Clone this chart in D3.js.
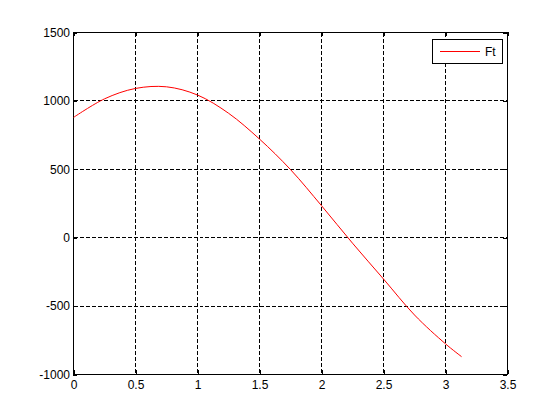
<!DOCTYPE html>
<html>
<head>
<meta charset="utf-8">
<script src="https://cdn.jsdelivr.net/npm/d3@7"></script>
<style>
  html, body { margin: 0; padding: 0; background: #fff; }
  svg { display: block; }
  text { font-family: "Liberation Sans", Arial, Helvetica, sans-serif; font-size: 12px; fill: #000; }
</style>
</head>
<body>
<svg id="chart" width="560" height="420"></svg>
<script>
// Data
const xValues = [0, 0.25, 0.5, 0.75, 1.0, 1.25, 1.5, 1.75, 2.0, 2.25, 2.5, 2.75, 3.0, 3.13];
const ftValues = [879, 1015, 1091, 1103, 1043, 910, 721, 498, 234, -40, -302, -565, -776, -870];
const xTicks = [0, 0.5, 1, 1.5, 2, 2.5, 3, 3.5];
const yTicks = [-1000, -500, 0, 500, 1000, 1500];
const seriesName = "Ft";

const svg = d3.select("#chart");
const L = 73, R = 507, T = 32, B = 374;

const x = d3.scaleLinear().domain([0, 3.5]).range([L + 0.5, R + 0.5]);
const y = d3.scaleLinear().domain([-1000, 1500]).range([B + 0.5, T + 0.5]);

svg.append("rect").attr("x", 0).attr("y", 0).attr("width", 560).attr("height", 420).attr("fill", "#fff");

// grid
const grid = svg.append("g").attr("shape-rendering", "crispEdges");
grid.selectAll("line.gx").data(xTicks.slice(1, -1)).enter().append("line")
  .attr("x1", d => x(d)).attr("x2", d => x(d)).attr("y1", T + 0.5).attr("y2", B + 0.5)
  .attr("stroke", "#000").attr("stroke-width", 1).attr("stroke-dasharray", "4,2");
grid.selectAll("line.gy").data(yTicks.slice(1, -1)).enter().append("line")
  .attr("y1", d => y(d)).attr("y2", d => y(d)).attr("x1", L + 0.5).attr("x2", R + 0.5)
  .attr("stroke", "#000").attr("stroke-width", 1).attr("stroke-dasharray", "4,2");

// axes (ticks inward, MATLAB style)
const tickLen = 4;
const fmt = d => String(d);
const xAxisB = d3.axisBottom(x).tickValues(xTicks).tickFormat(fmt).tickSizeInner(-tickLen).tickSizeOuter(0).tickPadding(6);
const xAxisT = d3.axisTop(x).tickValues(xTicks).tickFormat("").tickSizeInner(-tickLen).tickSizeOuter(0);
const yAxisL = d3.axisLeft(y).tickValues(yTicks).tickFormat(fmt).tickSizeInner(-tickLen).tickSizeOuter(0).tickPadding(3);
const yAxisR = d3.axisRight(y).tickValues(yTicks).tickFormat("").tickSizeInner(-tickLen).tickSizeOuter(0);

function styleAxis(g) {
  g.attr("shape-rendering", "crispEdges");
  g.select(".domain").remove();
  g.selectAll(".tick line").attr("stroke", "#000");
  g.selectAll(".tick text").attr("font-family", null).attr("font-size", null).attr("fill", "#000");
}
svg.append("g").attr("transform", `translate(0,${B})`).call(xAxisB).call(styleAxis)
  .attr("font-family", null).attr("font-size", null);
svg.append("g").attr("transform", `translate(0,${T})`).call(xAxisT).call(styleAxis);
svg.append("g").attr("transform", `translate(${L},0)`).call(yAxisL).call(styleAxis)
  .attr("font-family", null).attr("font-size", null);
svg.append("g").attr("transform", `translate(${R},0)`).call(yAxisR).call(styleAxis);

// axes box
svg.append("rect").attr("x", L + 0.5).attr("y", T + 0.5).attr("width", R - L).attr("height", B - T)
  .attr("fill", "none").attr("stroke", "#000").attr("stroke-width", 1).attr("shape-rendering", "crispEdges");

// curve
const data = xValues.map((v, i) => [v, ftValues[i]]);
const line = d3.line().x(d => x(d[0])).y(d => y(d[1])).curve(d3.curveCatmullRom.alpha(0.5));
svg.append("path").datum(data).attr("d", line)
  .attr("fill", "none").attr("stroke", "#ff0000").attr("stroke-width", 1);

// legend
const lg = svg.append("g");
lg.append("rect").attr("x", 432.5).attr("y", 39.5).attr("width", 70).attr("height", 24)
  .attr("fill", "#fff").attr("stroke", "#000").attr("stroke-width", 1).attr("shape-rendering", "crispEdges");
lg.append("line").attr("x1", 440).attr("x2", 480).attr("y1", 51.5).attr("y2", 51.5)
  .attr("stroke", "#ff0000").attr("stroke-width", 1).attr("shape-rendering", "crispEdges");
lg.append("text").attr("x", 485).attr("y", 56).text(seriesName);
</script>
</body>
</html>
